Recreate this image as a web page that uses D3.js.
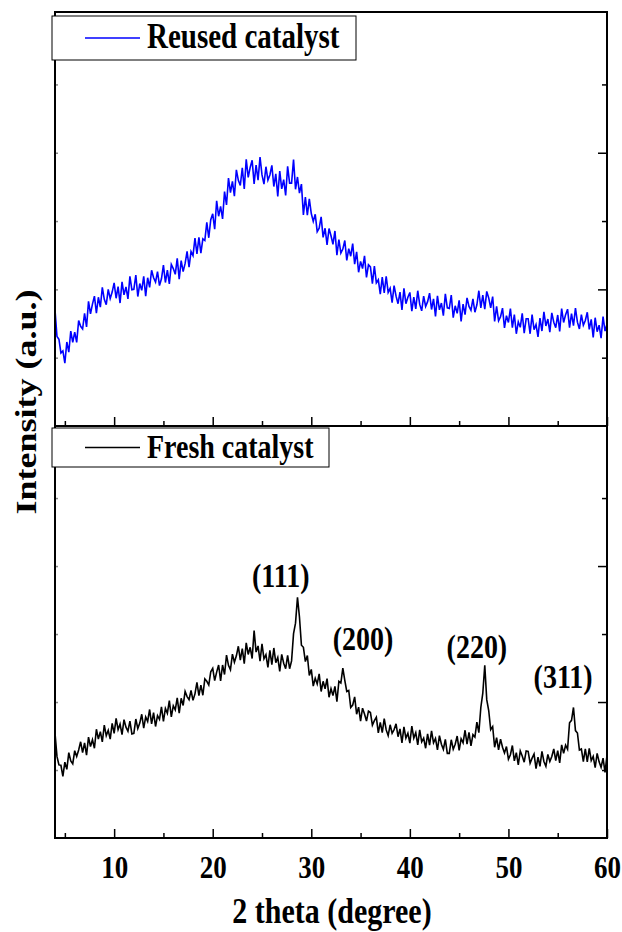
<!DOCTYPE html>
<html>
<head>
<meta charset="utf-8">
<script src="https://cdn.jsdelivr.net/npm/d3@7"></script>
<style>
    body { margin: 0; background: #fff; }
    text { font-family: "Liberation Serif", "Times New Roman", serif; font-weight: bold; fill: #000; }
</style>
</head>
<body>
<div id="chart"></div>
<script>
// XRD patterns, 2 theta from 4 to 60 deg, step 0.2 deg (counts)
const thetaStart = 4;
const thetaStep = 0.2;

const reusedCounts = [
    1700,1310,1270,1070,1100,920,1230,1080,1390,1225, 1375,1225,1545,1460,1420,1650,1450,1825,1640,1785,
    1900,1650,1885,1740,2030,1855,1775,2000,1865,1960, 2095,1870,2040,1800,2110,1920,2035,1860,2190,1995,
    2000,2210,1895,2085,1985,2190,1900,2170,2030,2280, 2170,2105,2260,2055,2155,2355,2100,2280,2080,2365,
    2305,2220,2455,2150,2420,2260,2380,2555,2325,2555, 2495,2750,2520,2760,2530,2740,2715,2980,2755,3020,
    3105,2880,3295,3070,3215,3030,3430,3235,3630,3415, 3580,3365,3750,3595,3520,3780,3470,3905,3640,3785,
    3890,3545,3820,3600,3935,3675,3540,3795,3600,3675, 3815,3505,3690,3360,3730,3470,3605,3375,3800,3555,
    3555,3900,3465,3645,3410,3540,3090,3350,3085,3325, 3110,2995,3100,2845,2895,3060,2760,2895,2650,2890,
    2785,2660,2855,2500,2730,2530,2590,2715,2425,2595, 2485,2670,2370,2550,2250,2410,2305,2490,2175,2360,
    2330,2085,2340,2095,2140,1930,2180,1950,2190,1955, 2015,1805,2055,1900,1790,1960,1700,2015,1790,1885,
    1955,1680,1885,1715,1980,1780,1685,1900,1750,1820, 1945,1705,1860,1605,1905,1700,1800,1615,1935,1730,
    1720,1915,1585,1760,1650,1840,1530,1785,1630,1875, 1750,1695,1860,1665,1775,1980,1730,1915,1710,1970,
    1875,1730,1895,1530,1750,1540,1600,1725,1435,1615, 1515,1720,1440,1630,1350,1525,1445,1650,1360,1570,
    1570,1350,1630,1410,1485,1305,1580,1390,1670,1465, 1565,1375,1655,1520,1440,1625,1385,1720,1515,1630,
    1710,1440,1645,1470,1725,1520,1420,1630,1475,1545, 1665,1415,1560,1295,1585,1380,1475,1285,1600,1390,
    1490
];

const freshCounts = [
    1545,1200,1075,1070,905,1115,1010,1255,1135,1090, 1285,1200,1295,1415,1255,1400,1220,1485,1345,1445,
    1320,1600,1455,1565,1415,1660,1505,1585,1455,1685, 1540,1760,1595,1675,1520,1740,1630,1570,1720,1530,
    1540,1750,1610,1690,1820,1615,1780,1715,1890,1680, 1845,1640,1800,1745,1930,1715,1905,1835,2020,1780,
    1945,1885,2060,1835,2055,1950,2155,2080,2035,2170, 2025,2120,2290,2095,2250,2100,2340,2305,2250,2445,
    2495,2315,2440,2545,2310,2545,2405,2690,2540,2475, 2705,2585,2680,2820,2615,2785,2565,2870,2700,2805,
    2640,3050,2735,2825,2600,2855,2635,2695,2510,2760, 2550,2795,2580,2655,2450,2700,2570,2490,2685,2490,
    2605,3005,3160,3540,3250,2835,2805,2595,2685,2390, 2480,2235,2350,2265,2415,2155,2305,2195,2345,2070,
    2195,2095,2230,2005,2305,2280,2500,2320,2155,2170, 1920,1955,2075,1820,1925,1720,1910,1825,1720,1865,
    1845,1660,1725,1775,1545,1700,1550,1755,1590,1505, 1665,1540,1595,1680,1490,1605,1400,1635,1470,1540,
    1395,1645,1470,1550,1370,1590,1415,1470,1320,1530, 1365,1575,1400,1465,1295,1505,1380,1305,1450,1245,
    1245,1445,1305,1380,1500,1290,1460,1400,1585,1380, 1555,1355,1520,1485,1705,1550,1920,2130,2540,2035,
    1875,1595,1640,1335,1475,1295,1455,1335,1250,1345, 1160,1225,1360,1135,1255,1075,1280,1205,1115,1280,
    1275,1100,1175,1235,1020,1190,1055,1275,1125,1055, 1230,1125,1200,1310,1140,1285,1105,1370,1245,1365,
    1305,1695,1730,1920,1580,1545,1295,1310,1125,1310, 1120,1320,1140,1200,1035,1245,1120,1040,1175,965,
    1215
];

const xDomain = [4, 60];
const xMajorTicks = [10, 20, 30, 40, 50, 60];
const xMinorTicks = [5, 15, 25, 35, 45, 55];
const yDomain = [0, 6060];
const yMajorTicks = [2000, 4000];
const yMinorTicks = [1000, 3000, 5000];

// Miller index labels, placed in data coordinates of the lower panel
const peakLabels = ['(111)', '(200)', '(220)', '(311)'];
const peakLabelTheta = [26.9, 35.25, 46.8, 55.55];
const peakLabelCounts = [3690, 2765, 2650, 2210];

// Layout
const W = 622, H = 932;
const plotLeft = 55, plotRight = 607, plotTop = 12, plotMid = 426, plotBottom = 838;
const stretch = 'scale(1,1.2)';

const svg = d3.select('#chart')
    .append('svg')
    .attr('width', W)
    .attr('height', H);

const x = d3.scaleLinear().domain(xDomain).range([plotLeft, plotRight]);
const yTop = d3.scaleLinear().domain(yDomain).range([plotMid, plotTop]);
const yBot = d3.scaleLinear().domain(yDomain).range([plotBottom, plotMid]);

const toPoints = arr => arr.map((v, i) => ({ theta: thetaStart + i * thetaStep, counts: v }));

svg.append('clipPath').attr('id', 'plot-clip')
    .append('rect')
    .attr('x', plotLeft).attr('y', plotTop)
    .attr('width', plotRight - plotLeft).attr('height', plotBottom - plotTop);

// Curves
const lineTop = d3.line().x(d => x(d.theta)).y(d => yTop(d.counts));
const lineBot = d3.line().x(d => x(d.theta)).y(d => yBot(d.counts));

svg.append('path')
    .datum(toPoints(reusedCounts))
    .attr('clip-path', 'url(#plot-clip)')
    .attr('fill', 'none')
    .attr('stroke', '#0000ff')
    .attr('stroke-width', 1.6)
    .attr('d', lineTop);

svg.append('path')
    .datum(toPoints(freshCounts))
    .attr('clip-path', 'url(#plot-clip)')
    .attr('fill', 'none')
    .attr('stroke', '#000')
    .attr('stroke-width', 1.6)
    .attr('d', lineBot);

// Axes (ticks pointing inward)
function tickAxis(axis, transform) {
    const g = svg.append('g').attr('transform', transform).call(axis);
    g.select('.domain').remove();
    g.selectAll('line').attr('stroke', '#000').attr('stroke-width', 1.5);
    return g;
}

const xAxisBottom = tickAxis(d3.axisBottom(x).tickValues(xMajorTicks).tickSize(-9).tickFormat(d3.format('d')),
    `translate(0,${plotBottom})`);
xAxisBottom.selectAll('text')
    .attr('y', 0).attr('dy', 0)
    .attr('transform', `translate(0,40) ${stretch}`)
    .style('font-size', '27px')
    .style('font-family', '"Liberation Serif", serif')
    .style('font-weight', 'bold');
tickAxis(d3.axisBottom(x).tickValues(xMinorTicks).tickSize(-5).tickFormat(''), `translate(0,${plotBottom})`);

tickAxis(d3.axisBottom(x).tickValues(xMajorTicks).tickSize(-9).tickFormat(''), `translate(0,${plotMid})`);
tickAxis(d3.axisBottom(x).tickValues(xMinorTicks).tickSize(-5).tickFormat(''), `translate(0,${plotMid})`);

[yTop, yBot].forEach(y => {
    tickAxis(d3.axisLeft(y).tickValues(yMajorTicks).tickSize(9).tickFormat(''), `translate(${plotRight},0)`);
    tickAxis(d3.axisLeft(y).tickValues(yMinorTicks).tickSize(5).tickFormat(''), `translate(${plotRight},0)`);
    tickAxis(d3.axisRight(y).tickValues(yMajorTicks.concat(yMinorTicks)).tickSize(3).tickFormat(''), `translate(${plotLeft},0)`)
        .selectAll('line').attr('stroke', '#888');
});

// Frame
svg.append('rect')
    .attr('x', plotLeft).attr('y', plotTop)
    .attr('width', plotRight - plotLeft).attr('height', plotBottom - plotTop)
    .attr('fill', 'none')
    .attr('stroke', '#000')
    .attr('stroke-width', 2);

svg.append('line')
    .attr('x1', plotLeft).attr('x2', plotRight)
    .attr('y1', plotMid).attr('y2', plotMid)
    .attr('stroke', '#000')
    .attr('stroke-width', 2);

// Legends
function legend(bx, by, bw, bh, color, label, size) {
    const g = svg.append('g');
    g.append('rect')
        .attr('x', bx).attr('y', by)
        .attr('width', bw).attr('height', bh)
        .attr('fill', '#fff')
        .attr('stroke', '#000')
        .attr('stroke-width', 1);
    g.append('line')
        .attr('x1', bx + 33).attr('x2', bx + 88)
        .attr('y1', by + bh / 2).attr('y2', by + bh / 2)
        .attr('stroke', color)
        .attr('stroke-width', 1.4);
    g.append('text')
        .attr('transform', `translate(${bx + 95},${by + bh / 2 + 10}) ${stretch}`)
        .style('font-size', size)
        .text(label);
}

legend(52, 16, 304, 44, '#0000ff', 'Reused catalyst', '29px');
legend(52, 428, 277, 39, '#000', 'Fresh catalyst', '28px');

// Peak labels
svg.selectAll('.peak')
    .data(peakLabels)
    .enter()
    .append('text')
    .attr('class', 'peak')
    .attr('text-anchor', 'middle')
    .attr('transform', (d, i) => `translate(${x(peakLabelTheta[i])},${yBot(peakLabelCounts[i])}) ${stretch}`)
    .style('font-size', '28px')
    .text(d => d);

// Axis titles
svg.append('text')
    .attr('text-anchor', 'middle')
    .attr('transform', `translate(332,923) ${stretch}`)
    .style('font-size', '30px')
    .text('2 theta (degree)');

svg.append('text')
    .attr('text-anchor', 'middle')
    .attr('transform', `translate(36,402) ${stretch} rotate(-90)`)
    .style('font-size', '30px')
    .text('Intensity (a.u.)');
</script>
</body>
</html>
